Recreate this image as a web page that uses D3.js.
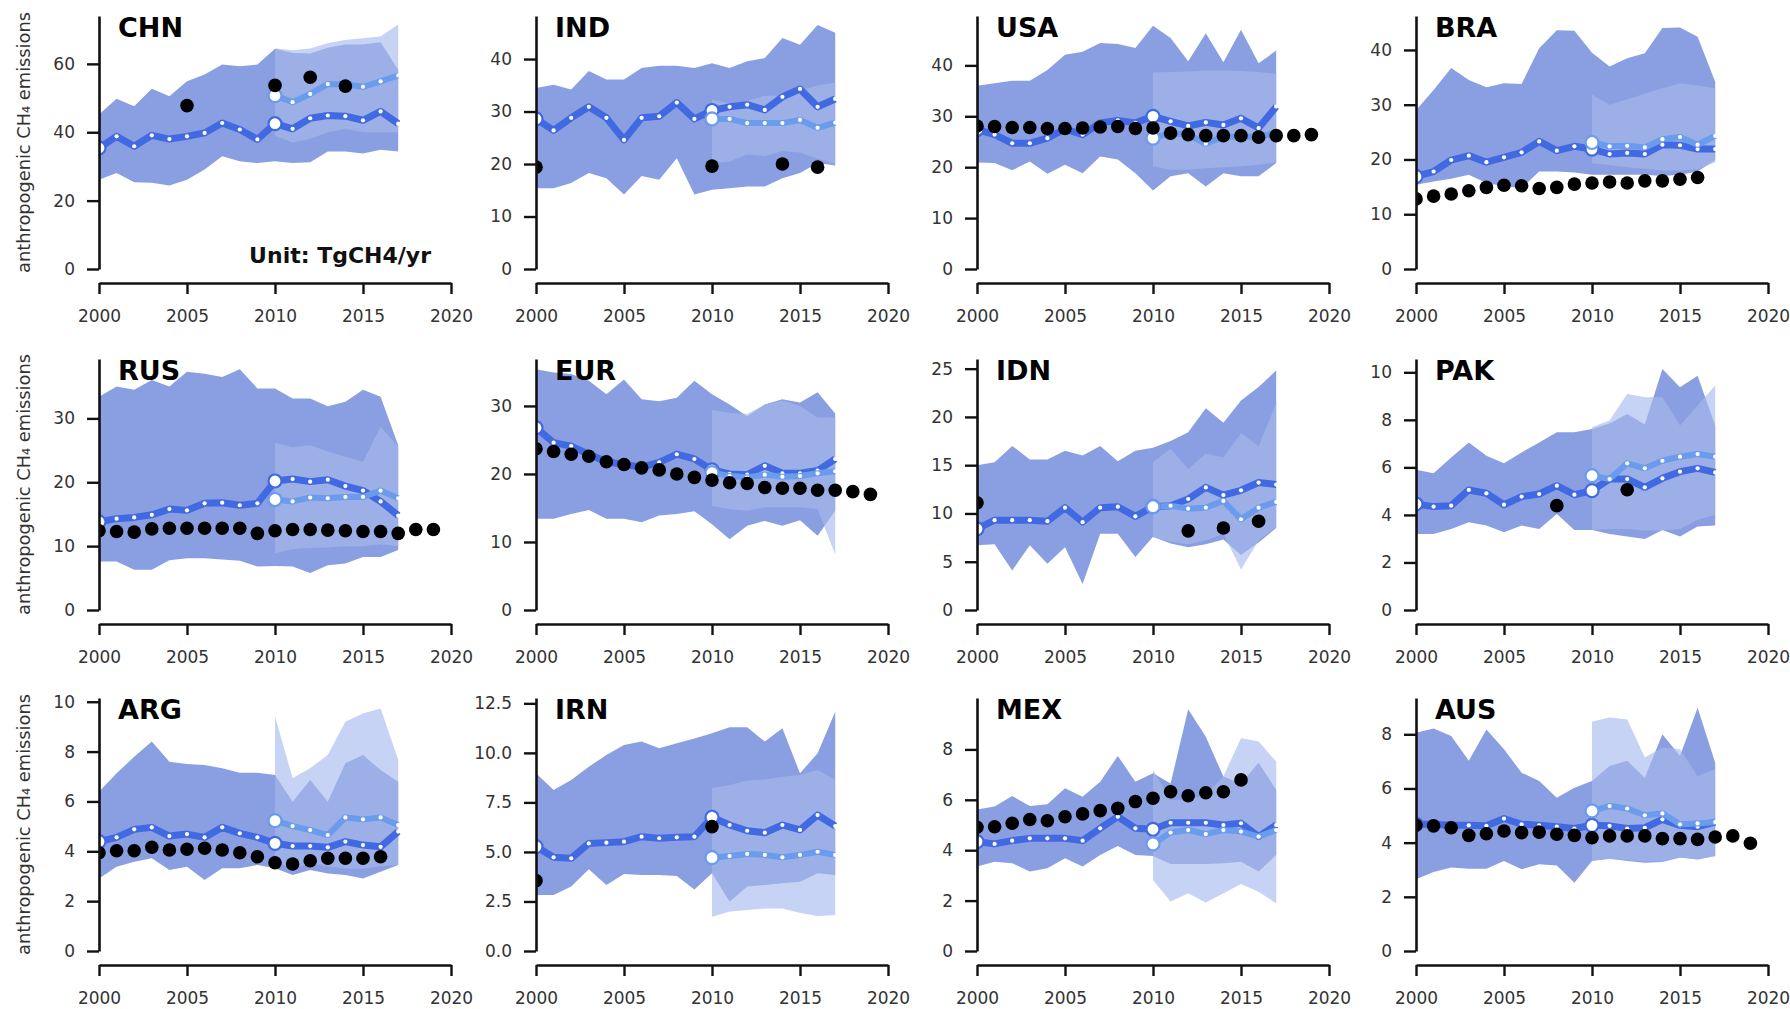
<!DOCTYPE html>
<html><head><meta charset="utf-8">
<script src="https://cdn.jsdelivr.net/npm/d3@7"></script>
<style>body{margin:0;background:#fff}svg{display:block}</style></head>
<body><svg id="c" width="1790" height="1009"></svg>
<script>
const countries = ["CHN","IND","USA","BRA","RUS","EUR","IDN","PAK","ARG","IRN","MEX","AUS"];
const yMax = [74,48.2,49.7,46.2,39.3,36.9,26.0,10.56,10.15,12.77,10.04,9.34];
const yTickVals = [[0,20,40,60],[0,10,20,30,40],[0,10,20,30,40],[0,10,20,30,40],[0,10,20,30],[0,10,20,30],[0,5,10,15,20,25],[0,2,4,6,8,10],[0,2,4,6,8,10],[0,2.5,5,7.5,10,12.5],[0,2,4,6,8],[0,2,4,6,8]];
const xTickVals = [2000,2005,2010,2015,2020];
const yearsA = [2000,2001,2002,2003,2004,2005,2006,2007,2008,2009,2010,2011,2012,2013,2014,2015,2016,2017];
const yearsB = [2010,2011,2012,2013,2014,2015,2016,2017];
const Y20 = [2000,2001,2002,2003,2004,2005,2006,2007,2008,2009,2010,2011,2012,2013,2014,2015,2016,2017,2018,2019];
const Y17 = [2000,2001,2002,2003,2004,2005,2006,2007,2008,2009,2010,2011,2012,2013,2014,2015,2016];
const Y16 = [2000,2001,2002,2003,2004,2005,2006,2007,2008,2009,2010,2011,2012,2013,2014,2015];

// dark inversion 2000-2017: central estimate
const lineA = [
 [35.4,38.8,35.9,39.1,38.0,38.8,39.8,42.7,40.8,37.9,42.5,41.0,44.1,44.9,44.7,43.5,46.1,42.5],
 [28.6,26.4,28.8,30.9,28.8,24.6,28.8,29.1,31.7,28.6,30.2,30.9,31.3,30.3,32.8,34.3,30.9,32.4],
 [27.4,26.4,24.7,24.7,25.7,27.5,26.4,28.7,29.2,28.7,30.0,29.0,28.1,28.8,28.3,29.6,27.7,31.9],
 [16.9,17.8,19.9,20.7,19.5,20.4,21.3,23.3,21.6,22.4,21.9,21.0,21.2,21.0,22.7,22.6,21.9,21.9],
 [13.8,14.3,14.5,14.9,15.8,15.6,16.7,16.8,16.4,16.7,20.2,20.5,20.1,20.4,19.4,18.7,17.0,14.8],
 [26.8,24.6,24.1,22.9,21.8,21.4,21.0,21.7,22.9,22.2,20.6,20.0,19.9,21.2,20.1,20.1,20.5,22.2],
 [8.4,9.3,9.3,9.3,9.2,10.6,9.1,10.6,10.7,9.7,10.7,10.8,11.5,12.7,11.9,12.4,13.2,13.0],
 [4.46,4.35,4.39,5.05,4.91,4.43,4.77,4.88,5.23,4.85,5.02,5.51,5.51,5.16,5.54,5.82,5.96,5.79],
 [4.39,4.56,4.88,4.96,4.61,4.69,4.56,4.96,4.72,4.56,4.32,4.21,4.21,4.16,4.39,4.25,4.18,4.79],
 [5.27,4.73,4.68,5.43,5.47,5.52,5.77,5.69,5.74,5.77,6.75,6.36,6.07,5.97,6.36,6.11,6.86,6.31],
 [4.34,4.25,4.38,4.47,4.47,4.47,4.38,4.87,5.33,4.87,4.83,5.09,5.09,5.09,5.0,5.07,4.54,5.0],
 [4.68,4.68,4.64,4.64,4.62,4.89,4.68,4.64,4.59,4.52,4.64,4.62,4.52,4.55,4.86,4.64,4.59,4.76]
];
const bandAHi = [
 [45.2,49.8,47.6,52.7,50.5,54.9,56.9,59.8,59.3,59.8,64.4,63.2,63.0,64.7,65.7,65.7,66.3,58.3],
 [34.5,35.1,34.2,37.7,36.1,36.1,38.3,38.7,38.7,38.3,39.2,38.3,39.6,40.2,44.0,42.7,46.5,45.0],
 [36.0,36.5,37.0,37.0,39.1,42.1,42.7,44.4,44.2,43.4,47.8,45.4,40.8,46.3,40.6,47.0,40.4,42.9],
 [29.0,32.7,36.7,34.5,33.2,33.9,33.8,40.3,43.6,43.5,39.5,37.0,38.5,39.4,44.0,44.1,42.4,34.2],
 [33.4,35.0,34.5,36.0,35.0,37.3,37.0,36.5,37.7,34.7,34.7,33.1,33.1,31.9,32.6,34.5,33.4,25.8],
 [35.4,34.9,34.7,33.7,31.7,33.9,31.0,30.7,31.2,33.7,31.7,30.2,28.5,30.2,31.0,30.5,32.0,28.9],
 [15.0,15.3,17.0,15.6,15.6,16.5,16.0,17.0,15.4,16.5,16.8,17.5,18.4,20.9,19.4,21.7,23.1,24.8],
 [5.9,5.75,6.42,7.05,6.49,6.17,6.63,7.05,7.48,7.48,7.62,7.85,8.25,7.8,10.14,9.37,9.86,7.76],
 [6.39,7.13,7.79,8.4,7.59,7.5,7.46,7.33,7.15,7.15,7.06,5.99,6.86,5.99,7.53,7.86,7.26,6.79],
 [8.97,8.13,8.63,9.3,9.89,10.4,10.57,10.23,10.48,10.73,10.99,11.29,11.29,10.57,11.24,8.97,9.98,12.08],
 [5.62,5.73,6.15,5.75,5.82,6.46,6.12,6.72,7.74,6.72,7.05,6.65,9.59,8.5,6.92,6.65,7.47,6.39],
 [8.06,8.21,7.94,7.02,8.18,7.45,6.58,6.28,5.66,6.03,6.28,6.83,7.02,6.4,8.0,7.2,8.98,6.95]
];
const bandALo = [
 [26.1,28.1,25.4,25.2,24.4,26.1,29.1,33.0,31.5,31.0,31.5,31.0,31.2,34.4,34.4,33.8,34.9,34.4],
 [15.4,15.4,16.4,18.3,17.3,14.2,17.7,17.0,21.1,14.2,15.1,15.4,15.7,15.7,17.3,18.3,20.2,19.7],
 [20.9,20.8,19.4,21.1,18.7,20.5,18.8,22.1,21.5,18.8,15.4,18.2,18.8,16.2,18.8,18.2,18.2,20.8],
 [15.4,16.0,16.5,17.2,15.7,15.1,14.8,17.8,17.8,17.6,17.2,17.2,17.2,17.2,17.0,17.2,17.8,19.9],
 [7.6,7.6,6.3,6.3,7.8,8.1,8.1,7.9,7.7,6.8,6.9,6.8,5.8,7.0,7.3,8.3,8.3,9.4],
 [13.4,13.4,14.1,14.7,13.4,13.4,12.9,13.9,14.1,14.5,12.6,10.4,12.4,13.1,12.4,13.2,10.9,14.6],
 [6.7,6.8,4.1,6.7,4.8,6.5,2.7,7.9,7.9,5.5,7.6,6.9,6.5,6.8,7.3,5.7,7.0,8.5],
 [3.2,3.2,3.41,3.69,3.55,3.27,3.55,3.41,4.04,3.37,3.37,3.2,3.09,2.99,3.37,3.09,3.51,3.55],
 [2.91,3.38,3.58,3.72,3.25,3.38,2.85,3.32,3.32,3.45,3.32,3.05,3.25,3.11,3.05,2.91,3.18,3.45],
 [2.83,2.83,3.25,4.12,3.33,3.89,3.84,3.84,3.79,3.11,3.92,2.49,3.25,3.33,3.42,3.5,3.92,3.84],
 [3.35,3.54,3.48,3.15,3.28,3.68,3.35,3.81,4.17,3.81,3.77,3.45,3.45,3.45,3.48,3.54,3.15,3.81],
 [2.65,2.92,3.08,3.04,3.04,3.32,3.02,3.2,3.16,2.52,3.32,3.41,3.32,3.26,3.29,3.45,3.38,3.51]
];
// light inversion 2010-2017
const lineB = [
 [50.7,48.8,51.2,54.1,54.0,53.3,54.9,56.6],
 [28.6,28.6,27.8,27.8,27.8,28.4,26.9,27.9],
 [25.7,26.7,26.4,24.6,26.0,26.0,26.0,26.7],
 [23.1,22.4,22.5,22.2,23.7,24.1,22.7,24.3],
 [17.3,17.0,17.6,17.5,17.7,17.7,18.7,17.5],
 [20.2,19.7,19.5,19.9,19.6,19.7,20.1,20.4],
 [10.7,10.8,10.5,10.6,11.3,9.4,10.6,11.2],
 [5.65,5.51,6.17,5.96,6.28,6.45,6.56,6.45],
 [5.23,5.01,4.85,4.65,5.36,5.28,5.36,5.05],
 [4.71,4.79,4.9,4.85,4.73,4.85,5.01,4.85],
 [4.25,4.7,4.8,4.64,4.8,4.74,4.54,4.8],
 [5.17,5.35,5.26,5.01,5.08,4.68,4.71,4.76]
];
const bandBHi = [
 [64.5,64.0,64.5,66.0,67.0,67.5,68.0,71.5],
 [32.3,31.5,32.0,33.0,33.0,34.0,35.0,35.5],
 [38.6,38.7,38.8,39.0,39.0,38.9,38.7,38.3],
 [31.8,30.0,31.0,32.0,33.0,33.9,33.5,33.0],
 [26.2,25.5,25.8,24.8,24.0,23.2,28.7,25.6],
 [29.4,29.0,28.8,30.2,30.8,30.0,28.3,28.3],
 [15.3,16.7,14.6,16.2,15.8,18.3,17.0,21.4],
 [7.69,7.97,9.09,8.95,8.95,7.76,8.6,9.44],
 [9.4,6.93,7.33,7.86,9.2,9.53,9.73,7.66],
 [8.21,8.38,8.6,8.66,8.8,8.88,9.14,8.66],
 [7.18,5.99,6.0,6.2,6.92,8.44,8.31,7.51],
 [8.46,8.62,8.55,7.14,7.51,7.45,6.46,6.71]
];
const bandBLo = [
 [39,37,38,40,41,40,40,40],
 [20.2,20.5,21.8,21.5,22.5,22.2,21.0,20.0],
 [20.2,19.5,19.5,19.8,20.0,20.2,20.5,20.9],
 [19.3,19.0,18.6,18.3,18.0,18.0,18.2,19.5],
 [8.9,9.5,9.7,9.8,10.0,10.0,10.3,10.0],
 [15.3,14.8,14.6,15.1,15.1,15.1,14.8,8.2],
 [7.5,7.1,6.8,7.2,7.9,4.2,7.2,8.6],
 [3.37,3.41,3.41,3.34,3.34,3.41,3.8,4.0],
 [3.6,3.3,3.5,3.4,3.3,3.3,3.4,3.45],
 [1.73,1.99,2.07,2.15,2.15,1.93,1.77,1.82],
 [2.82,1.96,2.29,1.92,2.29,2.66,2.35,1.89],
 [3.35,3.4,3.35,3.3,3.3,3.45,3.4,3.5]
];
// inventory (black dots)
const invYears = [
 [2005,2010,2012,2014],[2000,2010,2014,2016],Y20,Y17,Y20,Y20,
 [2000,2012,2014,2016],[2008,2012],Y17,[2000,2010],Y16,Y20
];
const invValues = [
 [47.8,53.7,56.1,53.5],
 [19.4,19.6,20.0,19.4],
 [28.1,28.0,27.8,27.8,27.6,27.6,27.7,27.9,28.0,27.6,27.7,26.7,26.4,26.2,26.2,26.2,25.9,26.2,26.2,26.4],
 [12.8,13.3,13.7,14.3,14.9,15.3,15.2,14.7,14.9,15.5,15.7,15.9,15.7,16.1,16.1,16.4,16.7],
 [12.4,12.3,12.2,12.7,12.8,12.8,12.8,12.8,12.8,12.0,12.4,12.6,12.6,12.5,12.4,12.3,12.3,12.0,12.6,12.6],
 [23.7,23.3,22.9,22.6,21.8,21.4,20.9,20.6,20.0,19.5,19.1,18.7,18.6,18.0,17.9,17.9,17.6,17.6,17.4,17.0],
 [11.1,8.2,8.5,9.2],
 [4.39,5.06],
 [3.94,4.02,4.02,4.16,4.05,4.08,4.12,4.05,3.94,3.78,3.54,3.49,3.62,3.72,3.72,3.72,3.78],
 [3.55,6.28],
 [4.91,4.93,5.07,5.22,5.17,5.33,5.44,5.57,5.66,5.93,6.06,6.32,6.16,6.28,6.32,6.79],
 [4.64,4.62,4.55,4.27,4.33,4.43,4.37,4.39,4.31,4.27,4.18,4.25,4.25,4.25,4.15,4.15,4.12,4.21,4.25,3.98]
];

// layout
const colX = [99,536,977,1416];
const rowTop = [16,359,698];
const rowBottom = [269,610,951];
const plotW = 352;
const FONT = "DejaVu Sans, sans-serif";
const cA = "#4169e1", cB = "#6a9bec";
const fillA = "#8a9fe1", fillLight = "#c6d3f4";

const svg = d3.select("#c");
svg.append("rect").attr("width",1790).attr("height",1009).attr("fill","#fff");
const defs = svg.append("defs");

countries.forEach((name,i)=>{
  const col = i%4, row = Math.floor(i/4);
  const x = d3.scaleLinear().domain([2000,2020]).range([colX[col], colX[col]+plotW]);
  const y = d3.scaleLinear().domain([0,yMax[i]]).range([rowBottom[row], rowTop[row]]);
  const g = svg.append("g");

  defs.append("clipPath").attr("id","clip"+i).append("rect")
    .attr("x", colX[col]).attr("y", rowTop[row]-20).attr("width", plotW+40).attr("height", rowBottom[row]-rowTop[row]+30);
  const p = g.append("g").attr("clip-path","url(#clip"+i+")");

  const dA = yearsA.map((yr,k)=>({yr, v:lineA[i][k], lo:bandALo[i][k], hi:bandAHi[i][k]}));
  const dB = yearsB.map((yr,k)=>({yr, v:lineB[i][k], lo:bandBLo[i][k], hi:bandBHi[i][k]}));
  const area = d3.area().x(d=>x(d.yr)).y0(d=>y(d.lo)).y1(d=>y(d.hi));
  const line = d3.line().x(d=>x(d.yr)).y(d=>y(d.v));

  // light band alone, then dark band, then light band lightly over it (overlap = medium)
  p.append("path").datum(dB).attr("d",area).attr("fill",fillLight);
  p.append("path").datum(dA).attr("d",area).attr("fill",fillA);
  p.append("path").datum(dB).attr("d",area).attr("fill",fillLight).attr("fill-opacity",0.3);

  p.append("path").datum(dA).attr("d",line).attr("fill","none").attr("stroke",cA).attr("stroke-width",7).attr("stroke-linejoin","round");
  p.selectAll(".ma").data(dA).enter().append("circle").attr("cx",d=>x(d.yr)).attr("cy",d=>y(d.v)).attr("r",2.1).attr("fill","#fff");
  p.append("path").datum(dB).attr("d",line).attr("fill","none").attr("stroke",cB).attr("stroke-width",6).attr("stroke-linejoin","round");
  p.selectAll(".mb").data(dB).enter().append("circle").attr("cx",d=>x(d.yr)).attr("cy",d=>y(d.v)).attr("r",2.1).attr("fill","#fff");

  [[dA[0],cA],[dA[10],cA],[dB[0],cB]].forEach(([d,c])=>{
    p.append("circle").attr("cx",x(d.yr)).attr("cy",y(d.v)).attr("r",6.5).attr("fill","#fff").attr("stroke",c).attr("stroke-width",2.2);
  });

  p.selectAll(".inv").data(invYears[i].map((yr,k)=>({yr, v:invValues[i][k]}))).enter().append("circle")
    .attr("cx",d=>x(d.yr)).attr("cy",d=>y(d.v)).attr("r",6.8).attr("fill","#000");

  // axes
  const fmt = name==="IRN" ? d3.format(".1f") : d3.format("d");
  const ya = g.append("g").attr("transform",`translate(${colX[col]},0)`)
    .call(d3.axisLeft(y).tickValues(yTickVals[i]).tickFormat(fmt).tickSize(12).tickSizeOuter(0).tickPadding(12));
  const xa = g.append("g").attr("transform",`translate(0,${rowBottom[row]+14})`)
    .call(d3.axisBottom(x).tickValues(xTickVals).tickFormat(d3.format("d")).tickSize(11).tickSizeOuter(0).tickPadding(16));
  [ya,xa].forEach(a=>{
    a.select(".domain").attr("stroke","#111").attr("stroke-width",2.6);
    a.selectAll(".tick line").attr("stroke","#111").attr("stroke-width",2.4);
    a.selectAll(".tick text").attr("fill","#333").style("font-family",FONT).style("font-size","17px");
  });

  g.append("text").attr("x",colX[col]+19).attr("y",rowTop[row]+21).text(name)
    .style("font-family",FONT).style("font-weight","bold").style("font-size","27px").attr("fill","#000");

  if(col===0){
    const cy = (rowTop[row]+rowBottom[row])/2;
    g.append("text").attr("transform",`translate(30,${cy}) rotate(-90)`).attr("text-anchor","middle")
      .text("anthropogenic CH\u2084 emissions").style("font-family",FONT).style("font-size","17.8px").attr("fill","#333");
  }
  if(i===0){
    g.append("text").attr("x",431).attr("y",263).attr("text-anchor","end").text("Unit: TgCH4/yr")
      .style("font-family",FONT).style("font-weight","bold").style("font-size","22px").attr("fill","#111");
  }
});
</script></body></html>
